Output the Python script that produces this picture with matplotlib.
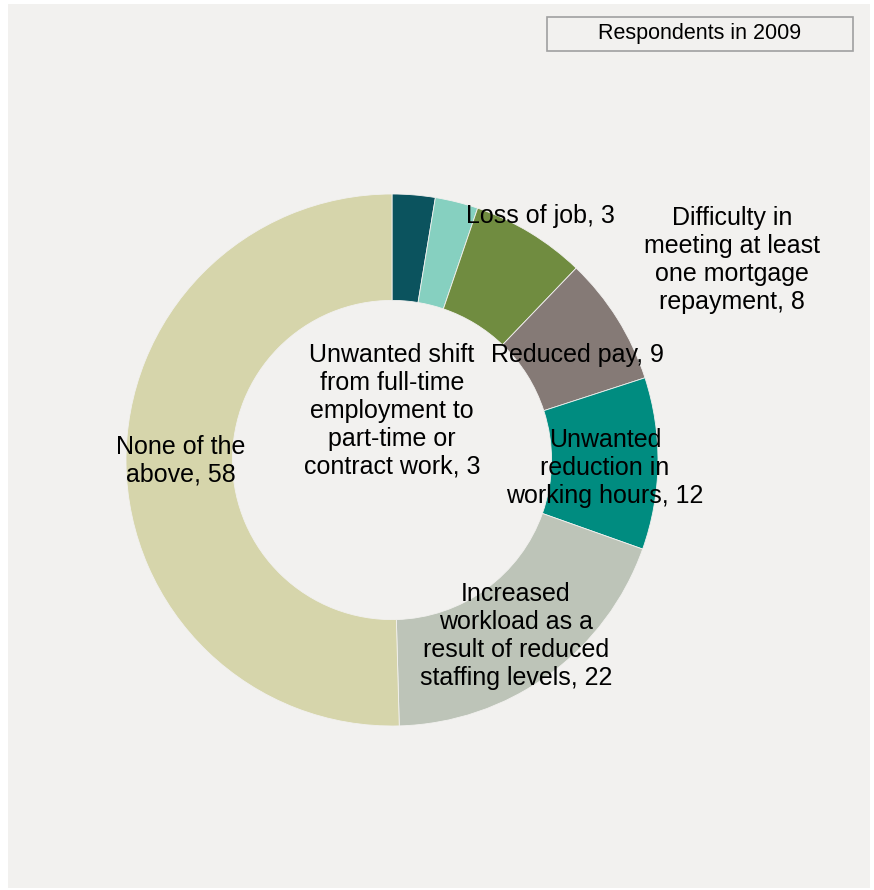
import matplotlib
matplotlib.use("Agg")
import matplotlib.pyplot as plt
from matplotlib.patches import Rectangle

plt.rcParams['font.family'] = ['Liberation Sans', 'DejaVu Sans']

categories = [
    "Loss of job",
    "Unwanted shift\nfrom full-time\nemployment to\npart-time or\ncontract work",
    "Difficulty in\nmeeting at least\none mortgage\nrepayment",
    "Reduced pay",
    "Unwanted\nreduction in\nworking hours",
    "Increased\nworkload as a\nresult of reduced\nstaffing levels",
    "None of the\nabove",
]
values = [3, 3, 8, 9, 12, 22, 58]
colors = ["#0b535e", "#86d0c0", "#708c40", "#857a76", "#008c80", "#bdc4b8", "#d6d5ab"]
title_box = "Respondents in 2009"

# label anchor positions in pixel space (x, y from top)
label_pos = [(540, 216), (392, 411), (732, 260), (577, 355), (605, 468), (516, 636), (181, 461)]

W, H = 874, 890
BG = "#f2f1ef"
fig = plt.figure(figsize=(W / 100, H / 100), dpi=100, facecolor="white")
ax = fig.add_axes([0, 0, 1, 1])
ax.set_xlim(0, W)
ax.set_ylim(0, H)
ax.set_aspect("equal")
ax.axis("off")

# chart area panel
ax.add_patch(Rectangle((8, H - 888), 862, 884, facecolor=BG, edgecolor="none", zorder=0))

cx, cy, r = 392, H - 460, 266
ax.pie(values, colors=colors, startangle=90, counterclock=False,
       center=(cx, cy), radius=r,
       wedgeprops=dict(width=r * 0.4, edgecolor=BG, linewidth=0.6))
ax.set_xlim(0, W)
ax.set_ylim(0, H)

for cat, v, (px, py) in zip(categories, values, label_pos):
    ax.text(px, H - py, f"{cat}, {v}", ha="center", va="center", multialignment="center",
            fontsize=18, color="black", linespacing=1.2, zorder=5)

# title box
ax.add_patch(Rectangle((547, H - 51), 306, 34, facecolor=BG, edgecolor="#a0a0a0",
                       linewidth=1.2, zorder=4))
ax.text(700, H - 33, title_box, ha="center", va="center", fontsize=15.5, zorder=5)

fig.savefig("out.png", dpi=100, facecolor="white")
